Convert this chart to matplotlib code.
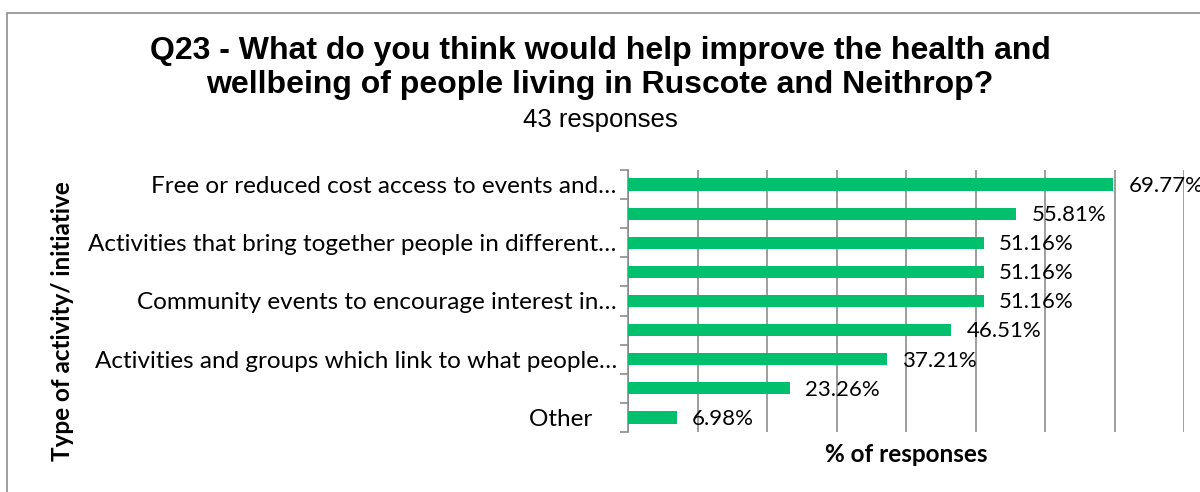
import matplotlib.pyplot as plt
from matplotlib.patches import Rectangle

# survey results, top to bottom
labels = [
    "Free or reduced cost access to events and\u2026",
    "",
    "Activities that bring together people in different\u2026",
    "",
    "Community events to encourage interest in\u2026",
    "",
    "Activities and groups which link to what people\u2026",
    "",
    "Other    ",
]
percent = [69.77, 55.81, 51.16, 51.16, 51.16, 46.51, 37.21, 23.26, 6.98]

bar_green = '#00C06E'
grid_grey = '#8C8C8C'
label_font = 'Lato'

fig = plt.figure(figsize=(12, 4.92), dpi=100)
ax = fig.add_axes([0.5233, 0.122, 0.4637, 0.5325])

pos = list(range(len(percent)))
ax.barh(pos, percent, height=0.42, color=bar_green, zorder=3)
ax.set_ylim(len(percent) - 0.5, -0.5)
ax.set_xlim(0, 80)

ax.set_xticks(range(0, 81, 10))
ax.tick_params(axis='x', length=0, labelbottom=False)
ax.grid(axis='x', color=grid_grey, linewidth=1.2, zorder=0)

# category boundaries carry the tick marks, labels sit between them
ax.set_yticks([p - 0.5 for p in pos] + [len(pos) - 0.5])
ax.tick_params(axis='y', which='major', length=6, color=grid_grey,
               width=1.2, labelleft=False)
ax.set_yticks(pos, minor=True)
ax.set_yticklabels(labels, minor=True, fontsize=17.5, family=label_font)
ax.tick_params(axis='y', which='minor', length=0, pad=8)

for side in ['top', 'right', 'bottom']:
    ax.spines[side].set_visible(False)
ax.spines['left'].set_color(grid_grey)
ax.spines['left'].set_linewidth(1.2)

for p, v in zip(pos, percent):
    ax.annotate('%.2f%%' % v, (v, p), xytext=(11, -1),
                textcoords='offset points', va='center', ha='left',
                fontsize=16, family=label_font, annotation_clip=False)

ax.set_xlabel('% of responses', fontsize=17.5, family=label_font,
              fontweight='bold', labelpad=8)
fig.text(0.052, 0.348, 'Type of activity/ initiative', rotation=90,
         ha='center', va='center', fontsize=17.5, family=label_font,
         fontweight='bold')

fig.text(0.5, 0.862, 'Q23 - What do you think would help improve the health and\n'
         'wellbeing of people living in Ruscote and Neithrop?',
         ha='center', va='center', fontsize=23, family='Liberation Sans',
         fontweight='bold', linespacing=1.15)
fig.text(0.5, 0.756, '43 responses', ha='center', va='center', fontsize=18.5,
         family='Liberation Sans')

# outer chart frame
fig.patches.append(Rectangle((0.006, -0.1), 1.2, 1.073, transform=fig.transFigure,
                             fill=False, edgecolor='#8C8C8C', linewidth=1.2))

fig.savefig('out.png', dpi=100)
